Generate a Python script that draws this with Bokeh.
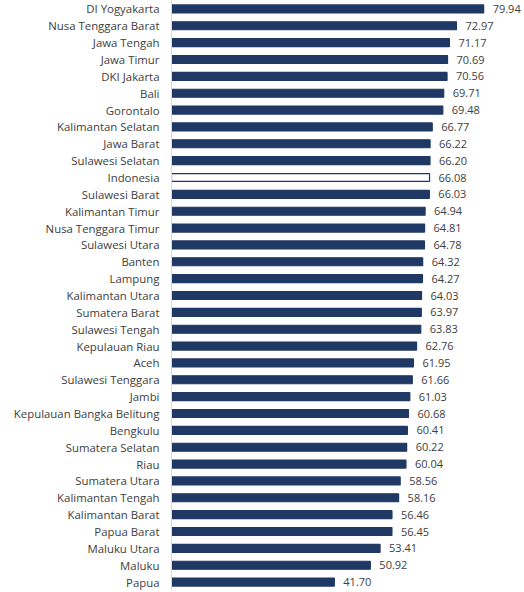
from bokeh.plotting import figure
from bokeh.models import ColumnDataSource, FactorRange
from bokeh.core.properties import value
from bokeh.embed import file_html
from bokeh.resources import INLINE

provinces = ["DI Yogyakarta", "Nusa Tenggara Barat", "Jawa Tengah", "Jawa Timur", "DKI Jakarta",
             "Bali", "Gorontalo", "Kalimantan Selatan", "Jawa Barat", "Sulawesi Selatan",
             "Indonesia", "Sulawesi Barat", "Kalimantan Timur", "Nusa Tenggara Timur", "Sulawesi Utara",
             "Banten", "Lampung", "Kalimantan Utara", "Sumatera Barat", "Sulawesi Tengah",
             "Kepulauan Riau", "Aceh", "Sulawesi Tenggara", "Jambi", "Kepulauan Bangka Belitung",
             "Bengkulu", "Sumatera Selatan", "Riau", "Sumatera Utara", "Kalimantan Tengah",
             "Kalimantan Barat", "Papua Barat", "Maluku Utara", "Maluku", "Papua"]
values = [79.94, 72.97, 71.17, 70.69, 70.56,
          69.71, 69.48, 66.77, 66.22, 66.20,
          66.08, 66.03, 64.94, 64.81, 64.78,
          64.32, 64.27, 64.03, 63.97, 63.83,
          62.76, 61.95, 61.66, 61.03, 60.68,
          60.41, 60.22, 60.04, 58.56, 58.16,
          56.46, 56.45, 53.41, 50.92, 41.70]
highlight = "Indonesia"

NAVY = "#1f3864"
fills = ["white" if n == highlight else NAVY for n in provinces]
labels = ["%.2f" % v for v in values]

src = ColumnDataSource(dict(name=provinces, val=values, fill=fills, lab=labels))

p = figure(width=524, height=592, output_backend="svg", toolbar_location=None,
           y_range=FactorRange(factors=list(reversed(provinces)), range_padding=0),
           x_range=(0, 90.4),
           min_border_left=171, min_border_right=0, min_border_top=0, min_border_bottom=2)

p.hbar(y="name", right="val", left=0, height=0.47, source=src,
       fill_color="fill", line_color=NAVY, line_width=1.2)

p.text(x="val", y="name", text="lab", source=src, x_offset=9,
       text_baseline="middle", text_align="left", text_font_size="11px",
       text_font=value("Open Sans"), text_color="#404040")

p.xaxis.visible = False
p.xgrid.visible = False
p.ygrid.visible = False
p.outline_line_color = None
p.yaxis.axis_line_color = "#d9d9d9"
p.yaxis.major_tick_line_color = None
p.yaxis.minor_tick_line_color = None
p.yaxis.major_tick_out = 0
p.yaxis.major_label_standoff = 12
p.yaxis.major_label_text_font = "Open Sans"
p.yaxis.major_label_text_font_size = "11.4px"
p.yaxis.major_label_text_color = "#404040"

open("out.html", "w").write(file_html(p, INLINE))
